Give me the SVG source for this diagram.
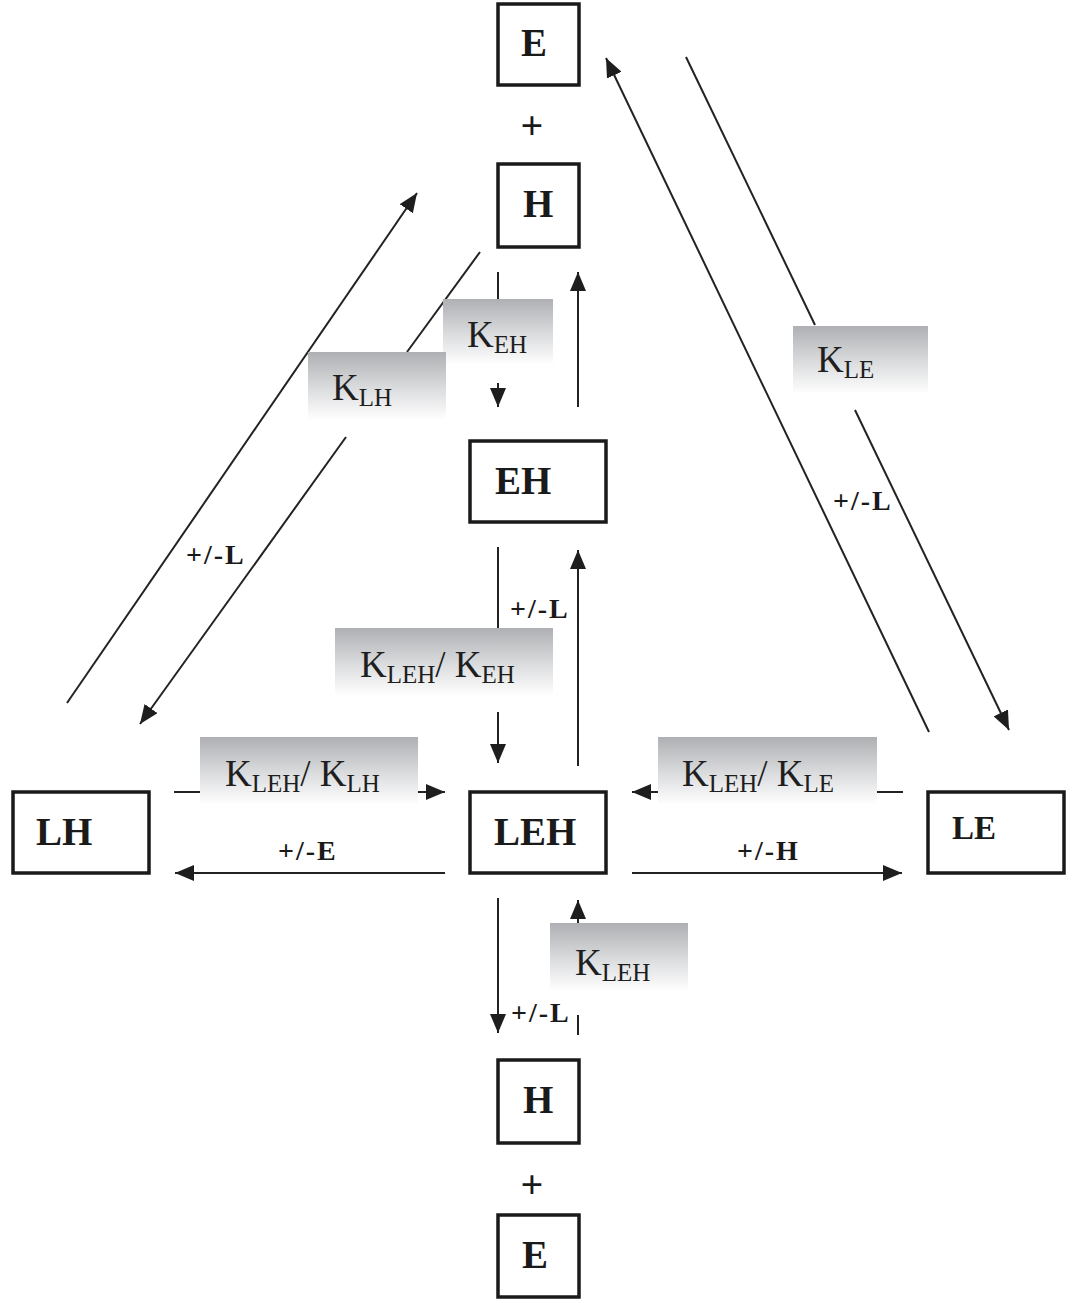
<svg xmlns="http://www.w3.org/2000/svg" width="1080" height="1303" viewBox="0 0 1080 1303">
<defs>
<linearGradient id="g" x1="0" y1="0" x2="0" y2="1">
<stop offset="0" stop-color="#aeb0b3"/>
<stop offset="0.55" stop-color="#dcdddf"/>
<stop offset="1" stop-color="#ffffff"/>
</linearGradient>
<marker id="ah" markerUnits="userSpaceOnUse" markerWidth="20" markerHeight="16" refX="19" refY="8" orient="auto">
<path d="M0,0 L19,8 L0,16 z" fill="#1e1e1e"/>
</marker>
<style>
.box{fill:#fff;stroke:#1a1a1a;stroke-width:3.5}
.bl{font-family:"Liberation Serif","DejaVu Serif",serif;font-weight:bold;font-size:39px;fill:#1a1a1a}
.pl{font-family:"Liberation Serif","DejaVu Serif",serif;font-weight:bold;font-size:40px;fill:#1a1a1a}
.cl{font-family:"Liberation Serif","DejaVu Serif",serif;font-weight:bold;font-size:28px;letter-spacing:2px;fill:#1a1a1a}
.k{font-family:"Liberation Serif","DejaVu Serif",serif;font-size:37px;fill:#1e1e1e}
.s{font-size:25px}
.ln{stroke:#222;stroke-width:2;fill:none}
.ar{stroke:#222;stroke-width:2;fill:none;marker-end:url(#ah)}
.gb{fill:url(#g)}
</style>
</defs>

<g id="connectors">
<line class="ar" x1="67" y1="703" x2="417" y2="193"/>
<line class="ln" x1="480" y1="252" x2="407" y2="352"/>
<line class="ar" x1="346" y1="437" x2="140" y2="724"/>
<line class="ln" x1="498" y1="272" x2="498" y2="299"/>
<line class="ar" x1="498" y1="383" x2="498" y2="407"/>
<line class="ar" x1="578" y1="407" x2="578" y2="272"/>
<line class="ln" x1="498" y1="547" x2="498" y2="628"/>
<line class="ar" x1="498" y1="712" x2="498" y2="763"/>
<line class="ar" x1="578" y1="766" x2="578" y2="550"/>
<line class="ln" x1="174" y1="792" x2="200" y2="792"/>
<line class="ar" x1="418" y1="792" x2="445" y2="792"/>
<line class="ar" x1="445" y1="873" x2="175" y2="873"/>
<line class="ln" x1="903" y1="792" x2="877" y2="792"/>
<line class="ar" x1="658" y1="792" x2="632" y2="792"/>
<line class="ar" x1="632" y1="873" x2="902" y2="873"/>
<line class="ar" x1="498" y1="898" x2="498" y2="1033"/>
<line class="ln" x1="578" y1="1035" x2="578" y2="1015"/>
<line class="ar" x1="578" y1="923" x2="578" y2="900"/>
<line class="ar" x1="929" y1="732" x2="606" y2="58"/>
<line class="ln" x1="686" y1="57" x2="815" y2="325"/>
<line class="ar" x1="855" y1="410" x2="1009" y2="730"/>
</g>

<g id="labels">
<g id="k-eh"><rect class="gb" x="443" y="299" width="110" height="66"/>
<text class="k" x="467" y="347">K<tspan class="s" dy="6">EH</tspan></text></g>
<g id="k-lh"><rect class="gb" x="308" y="352" width="138" height="68"/>
<text class="k" x="332" y="400">K<tspan class="s" dy="6">LH</tspan></text></g>
<g id="k-le"><rect class="gb" x="793" y="326" width="135" height="68"/>
<text class="k" x="817" y="372">K<tspan class="s" dy="6">LE</tspan></text></g>
<g id="k-leh-eh"><rect class="gb" x="335" y="628" width="218" height="68"/>
<text class="k" x="360" y="677">K<tspan class="s" dy="6">LEH</tspan><tspan dy="-6">/ K</tspan><tspan class="s" dy="6">EH</tspan></text></g>
<g id="k-leh-lh"><rect class="gb" x="200" y="737" width="218" height="68"/>
<text class="k" x="225" y="786">K<tspan class="s" dy="6">LEH</tspan><tspan dy="-6">/ K</tspan><tspan class="s" dy="6">LH</tspan></text></g>
<g id="k-leh-le"><rect class="gb" x="658" y="737" width="219" height="68"/>
<text class="k" x="682" y="786">K<tspan class="s" dy="6">LEH</tspan><tspan dy="-6">/ K</tspan><tspan class="s" dy="6">LE</tspan></text></g>
<g id="k-leh"><rect class="gb" x="550" y="923" width="138" height="68"/>
<text class="k" x="575" y="975">K<tspan class="s" dy="6">LEH</tspan></text></g>

<text class="cl" x="186" y="564">+/-L</text>
<text class="cl" x="510" y="618">+/-L</text>
<text class="cl" x="833" y="510">+/-L</text>
<text class="cl" x="278" y="860">+/-E</text>
<text class="cl" x="737" y="860">+/-H</text>
<text class="cl" x="511" y="1022">+/-L</text>
<text class="pl" x="532" y="139" text-anchor="middle">+</text>
<text class="pl" x="532" y="1198" text-anchor="middle">+</text>
</g>

<g id="node-E-top"><rect class="box" x="498" y="4" width="81" height="81"/><text class="bl" x="521" y="56">E</text></g>
<g id="node-H-top"><rect class="box" x="498" y="164" width="81" height="83"/><text class="bl" x="523" y="217">H</text></g>
<g id="node-EH"><rect class="box" x="470" y="441" width="136" height="81"/><text class="bl" x="495" y="494">EH</text></g>
<g id="node-LH"><rect class="box" x="13" y="792" width="136" height="81"/><text class="bl" x="36" y="845">LH</text></g>
<g id="node-LEH"><rect class="box" x="470" y="792" width="136" height="81"/><text class="bl" x="494" y="845">LEH</text></g>
<g id="node-LE"><rect class="box" x="928" y="792" width="136" height="81"/><text class="bl" x="952" y="839" style="font-size:33px">LE</text></g>
<g id="node-H-bottom"><rect class="box" x="498" y="1060" width="81" height="83"/><text class="bl" x="523" y="1113">H</text></g>
<g id="node-E-bottom"><rect class="box" x="498" y="1215" width="81" height="82"/><text class="bl" x="522" y="1268">E</text></g>
</svg>
